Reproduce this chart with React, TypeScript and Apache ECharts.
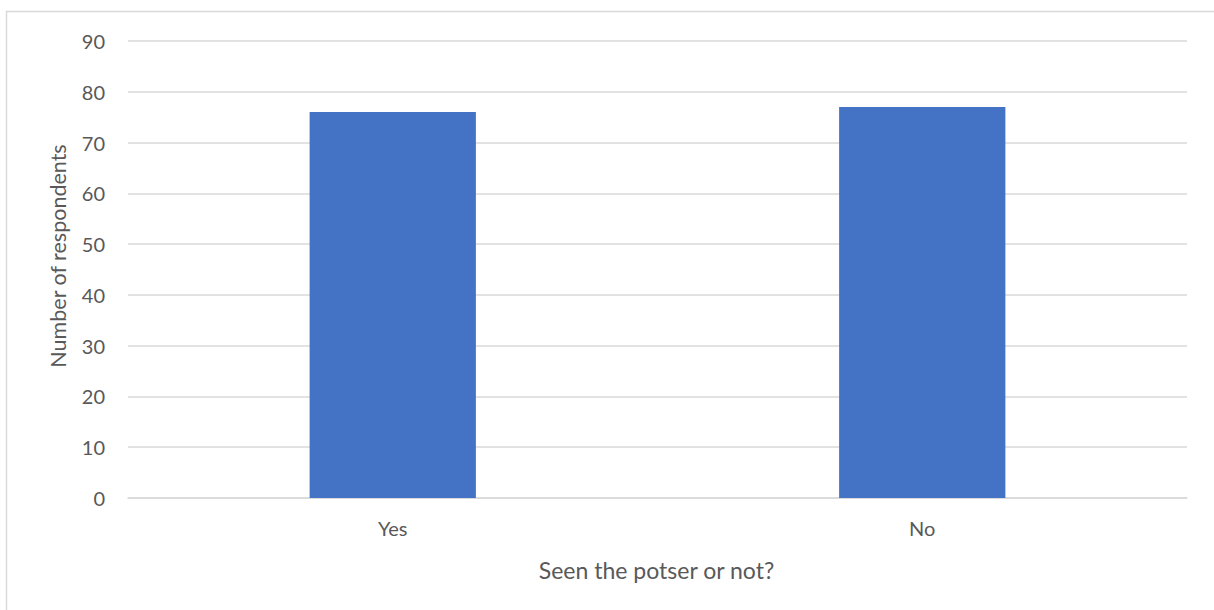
import React, { useEffect, useRef } from "react";
import * as echarts from "echarts";

const categories = ["Yes", "No"];
const respondents = [76, 77];
const yTicks = { min: 0, max: 90, interval: 10 };
const xTitle = "Seen the potser or not?";
const yTitle = "Number of respondents";

const FONT = "Lato, 'Open Sans', sans-serif";
const TEXT = "#595959";
const GRID = "#d9d9d9";

export default function App() {
  const ref = useRef<HTMLDivElement>(null);

  useEffect(() => {
    if (!ref.current) return;
    const chart = echarts.init(ref.current, undefined, { renderer: "svg" });
    chart.setOption({
      animation: false,
      backgroundColor: "#ffffff",
      textStyle: { fontFamily: FONT },
      graphic: [
        {
          type: "rect",
          shape: { x: 6.5, y: 11.5, width: 1220, height: 610 },
          style: { fill: "none", stroke: GRID, lineWidth: 1.5 },
          silent: true,
        },
        {
          type: "text",
          x: 57.5,
          y: 256,
          rotation: Math.PI / 2,
          style: {
            text: yTitle,
            fill: TEXT,
            font: `21.5px ${FONT}`,
            align: "center",
            verticalAlign: "middle",
          },
          silent: true,
        },
        {
          type: "text",
          x: 656.5,
          y: 570,
          style: {
            text: xTitle,
            fill: TEXT,
            font: `23px ${FONT}`,
            align: "center",
            verticalAlign: "middle",
          },
          silent: true,
        },
      ],
      grid: { left: 128, right: 27, top: 41, bottom: 112 },
      xAxis: {
        type: "category",
        data: categories,
        axisLine: { show: true, lineStyle: { color: GRID, width: 1.5 } },
        axisTick: { show: false },
        axisLabel: { color: TEXT, fontSize: 20, margin: 20, fontFamily: FONT },
      },
      yAxis: {
        type: "value",
        min: yTicks.min,
        max: yTicks.max,
        interval: yTicks.interval,
        axisLine: { show: false },
        axisTick: { show: false },
        axisLabel: { color: TEXT, fontSize: 20, margin: 23, fontFamily: FONT },
        splitLine: { lineStyle: { color: GRID, width: 1.5 } },
      },
      series: [
        {
          type: "bar",
          data: respondents,
          barWidth: "31.4%",
          itemStyle: { color: "#4472c4" },
        },
      ],
    });
    return () => chart.dispose();
  }, []);

  return (
    <div
      ref={ref}
      style={{ position: "fixed", left: 0, top: 0, width: 1214, height: 610 }}
    />
  );
}
